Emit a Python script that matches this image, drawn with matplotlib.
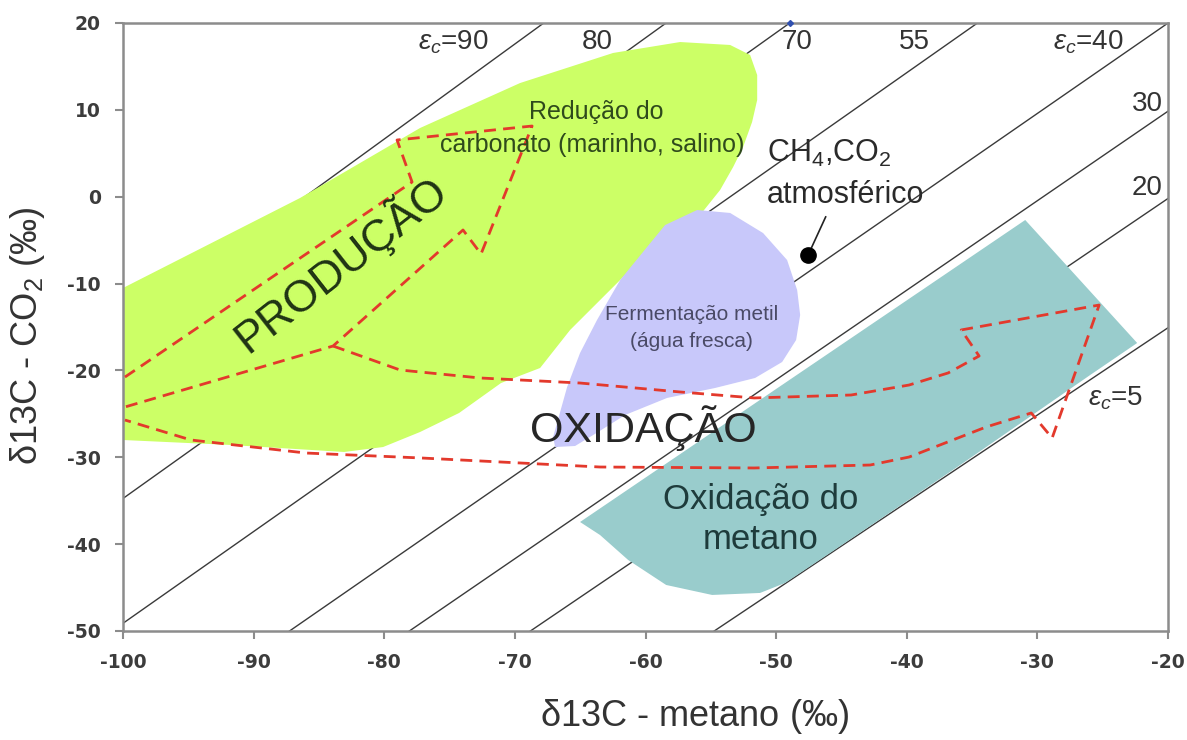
import numpy as np
import matplotlib.pyplot as plt

plt.rcParams['font.family'] = ['Liberation Sans', 'DejaVu Sans']
plt.rcParams['mathtext.fontset'] = 'custom'
plt.rcParams['mathtext.rm'] = 'Liberation Sans'
plt.rcParams['mathtext.it'] = 'Liberation Sans:italic'
plt.rcParams['mathtext.default'] = 'regular'
plt.rcParams['axes.unicode_minus'] = False

# iso-fractionation lines (epsilon_c, permil)
eps_values = [5, 20, 30, 40, 55, 70, 80, 90]

# field outlines: d13C-CH4 (x) vs d13C-CO2 (y)
green_x = [-100.0, -86.45, -77.26, -69.60, -62.48, -57.35, -53.52, -51.99, -51.45, -51.45,
           -51.84, -52.53, -53.29, -54.29, -55.82, -60.41, -65.77, -68.07, -71.06, -74.27,
           -77.26, -80.09, -83.08, -91.81, -100.0]
green_y = [-10.51, -0.15, 7.91, 13.09, 16.55, 17.81, 17.47, 16.32, 14.01, 11.14,
           8.60, 5.72, 3.42, 0.77, -2.10, -7.29, -15.34, -19.72, -21.45, -24.90,
           -27.09, -28.82, -29.39, -28.58, -28.01]

purple_x = [-56.05, -53.52, -51.00, -49.16, -48.39, -48.16, -48.47, -49.54, -51.61, -54.67,
            -58.35, -61.56, -63.63, -65.39, -66.92, -67.07, -66.00, -65.01, -63.71, -61.94,
            -59.88, -58.50]
purple_y = [-1.53, -1.87, -4.18, -7.29, -10.74, -13.62, -16.50, -19.03, -20.87, -22.02,
            -23.17, -25.13, -27.09, -28.70, -28.82, -27.66, -21.91, -17.99, -14.19, -9.59,
            -5.79, -3.26]

teal_x = [-30.93, -22.36, -25.96, -35.91, -45.87, -49.31, -51.23, -54.90, -58.42, -61.33,
          -63.48, -65.01]
teal_y = [-2.68, -16.84, -20.53, -30.89, -41.02, -44.47, -45.62, -45.85, -44.70, -41.82,
          -38.95, -37.45]

# dashed process arrows
prod_x = [-99.85, -77.87, -79.02, -68.68, -72.59, -73.97, -83.92, -99.85]
prod_y = [-20.76, 1.69, 6.53, 8.14, -6.59, -3.83, -17.19, -24.21]

oxid_x = [-83.92, -78.79, -72.66, -65.01, -57.35, -51.68, -44.26, -39.82, -36.83, -34.46,
          -35.83, -25.27, -28.87, -30.47, -33.92, -39.82, -42.80, -51.68, -63.48, -77.18,
          -85.99, -94.79, -99.85]
oxid_y = [-17.19, -19.95, -20.87, -21.45, -22.48, -23.17, -22.83, -21.68, -20.29, -18.34,
          -15.34, -12.47, -27.78, -24.90, -26.51, -29.97, -30.89, -31.23, -31.12, -30.08,
          -29.51, -28.01, -25.71]

atm_ch4, atm_co2 = -47.55, -6.71

fig = plt.figure(figsize=(11.87, 7.40), dpi=100)
ax = fig.add_axes([123 / 1187, 1 - 631 / 740, 1045 / 1187, 608 / 740])

xs = np.array([-100.0, -20.0])
for e in eps_values:
    ys = (xs + 1000) * np.exp(e / 1000) - 1000
    ax.plot(xs, ys, color='#3a3a3a', lw=1.0, zorder=1)

ax.fill(green_x, green_y, color='#ccff66', lw=0, zorder=2)
ax.fill(purple_x, purple_y, color='#c8c8fa', lw=0, zorder=2)
ax.fill(teal_x, teal_y, color='#99cccc', lw=0, zorder=2)

dash = (0, (4.3, 2.6))
ax.plot(prod_x, prod_y, color='#e3392c', lw=2, ls=dash, zorder=3)
ax.plot(oxid_x, oxid_y, color='#e3392c', lw=2, ls=dash, zorder=3)

# atmospheric point and its pointer
ax.plot(atm_ch4, atm_co2, 'o', color='black', ms=11, zorder=4)
ax.annotate('', xy=(atm_ch4, atm_co2), xytext=(-46.2, -2.3),
            arrowprops=dict(arrowstyle='-', color='#222222', lw=1.2, shrinkA=0, shrinkB=5))
top70 = 1020 / np.exp(0.07) - 1000
ax.plot(top70, 20, 'D', color='#3050b0', ms=3, clip_on=False, zorder=5)

# line labels
eps = r'$\mathit{\varepsilon}_\mathit{c}$'
lab = dict(fontsize=20, color='#333333', ha='center', va='center', zorder=5)
ax.text(-74.7, 17.8, eps + '=90', **lab)
ax.text(-63.7, 17.8, '80', **lab)
ax.text(-48.4, 17.8, '70', **lab)
ax.text(-39.4, 17.8, '55', **lab)
ax.text(-26.1, 17.8, eps + '=40', **lab)
ax.text(-21.6, 10.7, '30', **lab)
ax.text(-21.6, 1.0, '20', **lab)
ax.text(-24.0, -23.2, eps + '=5', **lab)

# field names
ax.text(-63.8, 9.75, 'Redução do', fontsize=18, color='#2f4a1c', ha='center', va='center', zorder=5)
ax.text(-64.1, 5.95, 'carbonato (marinho, salino)', fontsize=18, color='#2f4a1c',
        ha='center', va='center', zorder=5)
ax.text(-50.7, 5.0, r'CH$_4$,CO$_2$', fontsize=22, color='#2a2a2a', ha='left', va='center', zorder=5)
ax.text(-50.7, 0.2, 'atmosférico', fontsize=22, color='#2a2a2a', ha='left', va='center', zorder=5)
ax.text(-56.5, -13.6, 'Fermentação metil', fontsize=15, color='#4a4a66', ha='center', va='center', zorder=5)
ax.text(-56.5, -16.7, '(água fresca)', fontsize=15, color='#4a4a66', ha='center', va='center', zorder=5)
ax.text(-60.2, -26.6, 'OXIDAÇÃO', fontsize=31, color='#262626', ha='center', va='center', zorder=5)
ax.text(-51.2, -34.9, 'Oxidação do', fontsize=25, color='#1e3b3b', ha='center', va='center', zorder=5)
ax.text(-51.2, -39.5, 'metano', fontsize=25, color='#1e3b3b', ha='center', va='center', zorder=5)
ax.text(-83.4, -7.6, 'PRODUÇÃO', fontsize=32, color='#1f3314', rotation=38,
        rotation_mode='anchor', ha='center', va='center', zorder=5)

ax.set_xlim(-100, -20)
ax.set_ylim(-50, 20)
ax.set_xticks(range(-100, -19, 10))
ax.set_yticks(range(-50, 21, 10))
for lbl in ax.get_xticklabels() + ax.get_yticklabels():
    lbl.set_family('DejaVu Sans')
    lbl.set_weight('bold')
ax.tick_params(direction='out', length=6, width=1.5, color='#8c8c8c',
               labelsize=13.5, labelcolor='#3c3c3c', pad=10)
for s in ax.spines.values():
    s.set_color('#8c8c8c')
    s.set_linewidth(1.8)

fig.text(695 / 1187, 1 - 717 / 740, r'$\delta$13C - metano (‰)', fontsize=26, color='#333333',
         ha='center', va='center')
fig.text(28 / 1187, 1 - 336 / 740, r'$\delta$13C - CO$_2$ (‰)', fontsize=26, color='#333333',
         ha='center', va='center', rotation=90)

fig.savefig('out.png', dpi=100, facecolor='white')
